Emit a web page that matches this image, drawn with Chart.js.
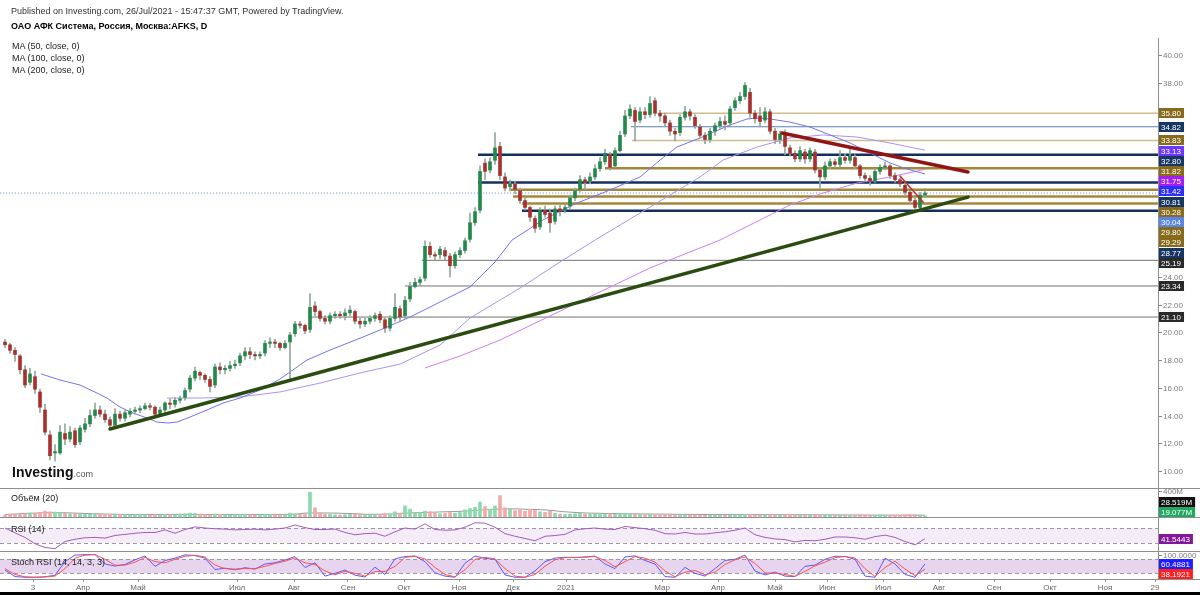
<!DOCTYPE html>
<html lang="ru">
<head>
<meta charset="utf-8">
<title>ОАО АФК Система — AFKS, D</title>
<script src="https://cdn.jsdelivr.net/npm/chart.js@4.4.1/dist/chart.umd.min.js"></script>
<style>
  html, body { margin: 0; padding: 0; background: #fff; }
  #wrap { position: relative; width: 1200px; height: 595px; overflow: hidden; font-family: "Liberation Sans", Arial, sans-serif; }
  #chart { position: absolute; left: 0; top: 0; }
  .t { position: absolute; white-space: nowrap; color: #222; font-size: 9px; line-height: 11px; }
</style>
</head>
<body>
<div id="wrap">
  <canvas id="chart" width="1200" height="595"></canvas>
  <div class="t" style="left:11px;top:6px;color:#333">Published on Investing.com, 26/Jul/2021 - 15:47:37 GMT, Powered by TradingView.</div>
  <div class="t" style="left:11px;top:21px;font-weight:bold;color:#000">ОАО АФК Система, Россия, Москва:AFKS, D</div>
  <div class="t" style="left:12px;top:41px">MA (50, close, 0)</div>
  <div class="t" style="left:12px;top:53px">MA (100, close, 0)</div>
  <div class="t" style="left:12px;top:65px">MA (200, close, 0)</div>
  <div class="t" style="left:11px;top:493px">Объём (20)</div>
  <div class="t" style="left:11px;top:524px">RSI (14)</div>
  <div class="t" style="left:11px;top:557px">Stoch RSI (14, 14, 3, 3)</div>
  <div class="t" style="left:12px;top:464px;font-size:14px;line-height:16px;font-weight:bold;color:#111">Investing<span style="font-size:9px;font-weight:normal;color:#555">.com</span></div>
</div>
<script>
// daily candles, two trading days per candle, from late Feb 2020 to 26 Jul 2021
const candleOpen = [
  19.3,19.1,18.7,18.3,17.3,16.4,16.8,15.7,14.4,12.6,
  11.3,11.3,12.7,12.3,12.9,12.1,13.0,13.4,14.0,14.4,
  14.1,13.7,13.3,14.1,13.8,14.1,14.3,14.4,14.5,14.7,
  14.6,14.1,14.4,14.9,14.8,15.1,15.3,15.9,16.7,17.1,
  16.9,16.6,16.2,17.5,17.3,17.4,17.6,17.8,18.3,18.6,
  18.4,18.3,18.5,19.2,19.3,19.2,18.9,19.3,19.9,20.6,
  20.5,20.2,21.9,21.5,21.0,20.8,21.2,21.3,21.2,21.4,
  21.5,20.8,20.6,20.8,21.0,21.3,20.9,20.3,21.0,21.7,
  21.2,22.4,23.3,23.6,23.9,26.2,25.6,25.6,25.9,25.5,
  24.8,25.6,25.9,26.7,27.9,28.8,32.2,31.7,32.4,33.4,
  31.2,30.5,30.7,30.2,29.5,29.0,28.2,27.6,28.8,28.6,
  28.0,28.9,28.8,29.1,29.7,30.3,31.0,30.9,31.2,31.8,
  32.3,32.8,32.0,33.1,34.3,35.6,36.0,35.3,35.9,35.7,
  36.7,35.8,35.6,35.1,34.5,34.4,35.5,35.9,35.5,34.8,
  34.2,33.9,34.5,34.9,35.2,35.1,36.2,36.7,37.0,37.3,
  35.8,35.6,35.3,35.9,34.5,33.9,34.3,33.3,32.9,32.5,
  33.0,32.5,33.0,31.7,31.2,32.0,32.3,32.1,32.6,32.4,
  32.6,32.0,31.3,31.1,30.9,31.6,31.9,32.0,31.3,31.0,
  30.6,30.1,29.5,29.0,29.9
];
const candleHigh = [
  19.5,19.2,18.9,18.4,17.6,17.4,17.2,15.9,14.8,12.9,
  11.9,13.3,13.4,13.2,13.1,13.3,13.8,14.4,14.9,14.7,
  14.4,13.9,14.5,14.3,14.4,14.5,14.6,14.7,14.9,14.9,
  14.7,14.6,15.0,15.2,15.3,15.4,16.0,16.9,17.5,17.2,
  17.0,16.8,17.7,17.8,17.6,17.9,18.0,18.5,18.9,18.9,
  18.6,18.6,19.4,19.6,19.5,19.3,19.4,20.0,20.8,20.8,
  20.6,22.8,22.2,21.6,21.2,21.4,21.5,21.5,21.7,21.9,
  21.6,21.0,21.0,21.2,21.4,21.5,21.0,21.2,22.8,21.9,
  22.6,23.6,23.9,24.0,26.6,26.5,25.8,26.2,26.1,25.7,
  25.8,26.1,26.8,28.6,29.0,32.0,32.5,32.6,34.4,33.7,
  31.5,31.0,30.9,30.4,29.7,29.1,28.4,29.0,29.1,28.9,
  29.1,29.2,29.2,29.9,30.4,31.3,31.2,31.5,32.1,32.6,
  33.2,33.0,33.3,34.5,36.0,36.4,36.2,36.2,36.2,37.0,
  36.9,36.0,35.8,35.3,34.7,35.7,36.3,36.1,35.7,35.0,
  34.4,34.7,35.1,35.5,35.6,36.3,36.9,37.3,38.0,37.6,
  36.0,36.2,36.2,36.1,34.7,34.5,34.6,33.5,33.1,33.4,
  33.2,33.3,33.2,31.9,32.3,32.5,32.5,33.1,32.9,33.3,
  32.8,32.1,31.5,31.3,31.8,32.1,32.3,32.1,31.5,31.1,
  30.8,30.2,29.7,30.1,30.2
];
const candleLow = [
  18.9,18.5,17.9,17.0,16.0,16.2,15.6,14.2,12.6,10.8,
  10.7,11.2,11.9,12.1,11.7,11.9,12.8,13.2,13.8,13.9,
  13.5,13.0,13.2,13.6,13.6,13.9,14.1,14.2,14.4,14.4,
  13.9,14.0,14.2,14.5,14.6,14.9,15.1,15.7,16.5,16.6,
  16.4,15.7,16.0,17.0,17.0,17.2,17.4,17.6,18.0,18.1,
  18.0,18.1,18.3,18.9,18.9,18.7,18.8,16.6,19.7,20.3,
  19.9,20.0,21.2,20.8,20.6,20.6,21.0,21.0,20.9,21.2,
  20.6,20.3,20.4,20.6,20.8,20.7,20.0,20.1,20.8,20.8,
  21.0,22.2,23.2,23.4,23.7,25.4,25.2,25.3,25.2,24.0,
  24.6,25.4,25.7,26.5,27.7,28.6,31.0,31.5,32.1,31.0,
  30.2,30.2,30.0,29.3,28.8,28.0,27.2,27.4,28.3,27.2,
  27.8,28.4,28.6,28.9,29.5,30.1,30.3,30.7,31.0,31.6,
  32.1,31.7,31.9,33.0,34.1,35.4,33.8,35.1,35.4,35.5,
  35.6,35.2,34.9,34.2,33.8,34.2,35.3,35.3,34.7,34.0,
  33.6,33.7,34.2,34.7,34.6,34.8,36.0,36.5,36.8,35.5,
  35.1,34.8,35.1,34.3,33.6,33.6,32.8,32.7,32.3,32.3,
  32.2,32.3,31.5,30.4,31.0,31.8,31.9,31.9,32.2,32.2,
  31.8,31.1,30.9,30.6,30.8,31.4,31.7,31.1,30.8,30.5,
  29.9,29.3,28.9,28.9,29.7
];
const candleClose = [
  19.1,18.7,18.4,17.3,16.2,17.0,15.9,14.6,12.8,11.1,
  11.4,12.8,12.3,12.8,11.9,13.1,13.4,14.0,14.4,14.1,
  13.7,13.3,14.1,13.8,14.2,14.3,14.4,14.5,14.7,14.6,
  14.1,14.4,14.9,14.8,15.1,15.2,15.8,16.7,17.2,16.9,
  16.6,16.1,17.5,17.3,17.4,17.6,17.7,18.3,18.6,18.4,
  18.3,18.4,19.2,19.3,19.2,18.9,19.2,19.8,20.6,20.5,
  20.1,21.8,21.5,21.0,20.8,21.2,21.3,21.2,21.4,21.6,
  20.8,20.6,20.8,21.0,21.2,20.9,20.3,21.0,21.8,21.1,
  22.3,23.3,23.6,23.8,26.2,25.6,25.5,26.0,25.5,24.8,
  25.6,25.9,26.6,27.9,28.7,31.6,31.6,32.3,33.3,31.3,
  30.4,30.7,30.3,29.5,29.0,28.3,27.5,28.8,28.5,27.9,
  28.9,28.7,29.0,29.7,30.2,31.0,30.8,31.2,31.8,32.3,
  32.9,31.9,33.1,34.2,35.6,36.1,35.2,35.9,35.7,36.5,
  35.8,35.6,35.1,34.5,34.3,35.5,35.9,35.6,34.9,34.2,
  33.9,34.5,34.9,35.2,35.0,36.1,36.7,37.0,37.8,35.8,
  35.4,35.2,35.9,34.5,33.9,34.3,33.4,32.9,32.5,33.1,
  32.5,33.1,31.7,31.2,32.0,32.3,32.1,32.6,32.4,32.7,
  32.0,31.3,31.1,30.9,31.6,31.9,32.0,31.3,31.0,30.7,
  30.1,29.5,29.0,29.9,30.04
];
// volume per candle, millions
const volume = [
  30,35,40,45,50,60,55,70,90,80,
  75,70,60,50,55,45,40,45,50,40,
  35,40,45,40,35,30,35,40,35,30,
  35,30,40,35,30,45,50,60,55,45,
  40,35,45,40,35,30,35,40,45,35,
  30,35,45,40,35,30,35,60,50,40,
  40,380,140,60,45,40,35,30,35,40,
  45,40,35,30,35,40,50,45,80,60,
  170,120,60,70,90,80,60,50,55,70,
  60,70,110,130,150,230,160,120,170,330,
  140,120,100,110,90,120,100,80,70,90,
  55,45,40,45,50,60,45,40,45,50,
  45,50,40,50,55,50,45,40,35,45,
  35,30,28,32,30,35,30,28,30,26,
  26,30,32,30,28,30,34,36,40,38,
  30,28,30,34,30,28,30,34,26,30,
  26,30,34,36,34,30,26,30,26,24,
  26,30,26,24,26,30,26,24,26,30,
  32,36,40,30,19.077
];
// indicators, read at every second candle
const volumeMa = [
  40,45,55,60,65,68,65,60,55,50,
  45,42,40,38,38,38,40,40,40,40,
  38,38,38,38,38,38,38,40,40,42,
  60,62,62,60,55,52,42,42,44,48,
  60,65,70,75,80,85,90,100,110,120,
  125,125,120,115,110,95,80,70,62,58,
  55,52,50,48,46,45,44,42,40,40,
  38,38,37,37,37,36,36,35,35,34,
  34,33,33,32,32,31,31,30,30,29,
  29,28.6,28.519
];
const rsi14 = [
  70,57,45,28,18,15,34,40,44,45,
  43,50,53,56,58,58,65,56,66,73,
  70,68,67,65,66,67,65,67,70,78,
  71,66,66,67,58,52,55,56,48,60,
  70,67,81,66,64,65,72,84,83,72,
  55,48,42,36,48,50,53,65,68,70,
  67,66,74,71,68,64,55,54,58,54,
  54,57,60,64,70,52,45,41,39,33,
  37,36,40,46,46,44,40,47,51,45,
  34,25,41.5443
];
const stochK = [
  34,6,3,3,5,12,70,98,100,100,
  60,51,58,78,94,50,75,85,99,96,
  85,36,42,35,44,38,60,65,77,92,
  45,65,8,20,34,12,4,46,15,82,
  92,94,70,22,8,3,63,94,84,80,
  13,3,3,30,70,85,89,87,90,94,
  60,40,90,95,75,60,6,3,45,20,
  8,40,75,80,98,30,13,25,8,6,
  50,55,80,93,92,80,8,3,85,60,
  15,3,60.4881
];
const stochD = [
  40,15,5,3,4,8,40,85,98,100,
  80,55,55,68,88,70,65,80,93,97,
  90,55,40,38,40,40,50,62,72,86,
  65,58,30,14,28,20,8,28,28,50,
  88,93,82,45,15,5,35,80,88,82,
  40,8,3,15,50,78,87,88,89,92,
  75,48,70,92,85,68,30,5,25,32,
  14,25,58,78,90,62,22,20,15,7,
  28,52,68,87,92,86,40,6,45,72,
  38,10,38.1921
];
// moving averages: candle index and value
const ma50At = [7.2,11,15,18.4,20.4,23,25.6,28.4,30.4,32.6,34.4,37,40.4,43.6,47,51,55,60.4,65,71.6,76.4,81,85,89,93,98,101.4,107.6,114.4,121,127,131,134.4,139,145,148.4,150.4,153,157,161,165,169,173,177,180.4,184];
const ma50 = [17.0,16.56,16.2,15.62,15.26,14.61,14.18,13.82,13.53,13.46,13.53,13.89,14.4,14.9,15.26,15.84,16.63,18.0,18.72,19.66,20.38,21.1,21.82,22.55,23.27,25.07,26.65,28.1,29.32,30.26,31.2,32.42,33.36,34.01,34.95,35.38,35.45,35.38,35.16,34.8,34.23,33.65,32.93,32.21,31.77,31.42];
const ma100At = [32.4,39,47,55,63,71,79,87,93,103,111,119,129,139,143.6,150.4,157,163.6,170.4,177,184];
const ma100 = [15.26,15.26,15.34,15.7,16.34,17.07,17.71,19.08,21.03,23.19,25.07,26.87,29.03,31.2,32.42,33.36,34.01,34.23,34.08,33.65,33.13];
const ma200At = [84,91,99,109,119,129,139,143,151,157,163.6,170.4,177,184];
const ma200 = [17.43,18.29,19.44,21.18,22.91,24.64,26.08,26.65,28.1,29.18,30.04,30.76,31.2,31.75];
// drawn horizontal levels: price, first candle, kind
const levelPrice = [35.80,34.82,33.83,32.80,31.82,30.81,30.28,29.80,29.29,28.77,25.19,23.34,21.10];
const levelFrom = [131,125.2,125.4,94.6,120,94.6,101,101.6,103.4,103.4,83.4,80,61];
const levelKind = ['tanThin','blueThin','tanThin','navy','tanThick','navy','tanThick','tanThick','tanThick','navy','grey','grey','grey'];
// drawn trend lines
const trendKind = ['support','resistance','short'];
const trendX0 = [21,155.4,179];
const trendY0 = [13.03,34.37,31.27];
const trendX1 = [192.6,192.6,183.6];
const trendY1 = [29.75,31.56,29.39];
// time axis
const monthLabels = ['3','Апр','Май','Июл','Авг','Сен','Окт','Ноя','Дек','2021','Мар','Апр','Май','Июн','Июл','Авг','Сен','Окт','Ноя','29'];
const monthAt = [5.6,15.6,26.6,46.4,57.8,68.6,79.8,90.8,101.6,112.2,131.4,142.6,154,164.4,175.6,186.8,197.8,209,220,230];
const priceTicks = [10,12,14,16,18,20,22,24,26,28,30,32,34,36,38,40];

const X_MIN = -1, X_MAX = 230.6;
const FONT = '"Liberation Sans", Arial, sans-serif';
Chart.defaults.font.family = FONT;

const UP = '#23894b', DOWN = '#a8312f', WICK = '#93a89b';
const LEVEL_STYLE = {
  tanThin: { color: '#cdbd8f', width: 1.5, tag: '#876a1c' },
  tanThick: { color: '#a4883a', width: 2.5, tag: '#876a1c' },
  navy: { color: '#132f5e', width: 2.5, tag: '#173663' },
  blueThin: { color: '#587fae', width: 1.2, tag: '#173663' },
  grey: { color: '#727272', width: 1, tag: '#2a2a2a' }
};
const TREND_STYLE = {
  support: { color: '#2b4c10', width: 3.5 },
  resistance: { color: '#921515', width: 3.5 },
  short: { color: '#c0302a', width: 1.6 }
};

const idx = candleClose.map((_, i) => i);
const isUp = idx.map(i => candleClose[i] >= candleOpen[i]);
const everySecond = arr => arr.map((v, j) => ({ x: j * 2, y: v }));
const pairs = (xs, ys) => xs.map((x, k) => ({ x, y: ys[k] }));
const last = arr => arr[arr.length - 1];

const line = (data, color, width, axis, extra) => Object.assign({
  type: 'line', data, borderColor: color, borderWidth: width, pointRadius: 0,
  tension: 0, fill: false, yAxisID: axis, order: 5
}, extra || {});

const datasets = [
  {
    type: 'bar', data: idx.map(i => ({ x: i, y: [candleOpen[i], candleClose[i]] })),
    backgroundColor: idx.map(i => isUp[i] ? UP : DOWN), barThickness: 3,
    grouped: false, minBarLength: 1, yAxisID: 'y', order: 2
  },
  {
    type: 'bar', data: idx.map(i => ({ x: i, y: [candleLow[i], candleHigh[i]] })),
    backgroundColor: WICK, barThickness: 1, grouped: false, yAxisID: 'y', order: 3
  },
  {
    type: 'bar', data: idx.map(i => ({ x: i, y: volume[i] })),
    backgroundColor: idx.map(i => isUp[i] ? '#8bd9ae' : '#f4a9a9'), barThickness: 3,
    grouped: false, yAxisID: 'yVol', order: 4
  },
  line(everySecond(volumeMa), '#9a9a9a', 1, 'yVol'),
  line(everySecond(rsi14), '#a35cc4', 1, 'yRsi'),
  line(everySecond(stochD), '#ff5252', 1, 'yStoch'),
  line(everySecond(stochK), '#5a5aff', 1, 'yStoch'),
  line(pairs(ma50At, ma50), '#7373f0', 1, 'y'),
  line(pairs(ma100At, ma100), '#ad92ef', 1, 'y'),
  line(pairs(ma200At, ma200), '#cf7ef0', 1, 'y'),
  line([{ x: X_MIN, y: last(candleClose) }, { x: X_MAX, y: last(candleClose) }], '#6f8cf5', 1, 'y', { borderDash: [1, 2], order: 7 })
];
levelPrice.forEach((p, k) => {
  const st = LEVEL_STYLE[levelKind[k]];
  datasets.push(line([{ x: levelFrom[k], y: p }, { x: X_MAX, y: p }], st.color, st.width, 'y', { order: 6 }));
});
trendKind.forEach((kind, k) => {
  const st = TREND_STYLE[kind];
  datasets.push(line([{ x: trendX0[k], y: trendY0[k] }, { x: trendX1[k], y: trendY1[k] }], st.color, st.width, 'y', { order: 0, borderCapStyle: 'round' }));
});

// right-hand price tags
const mainTags = levelPrice.map((p, k) => ({ v: p, bg: LEVEL_STYLE[levelKind[k]].tag, text: p.toFixed(2) }));
mainTags.push({ v: last(ma50), bg: '#2d2dff', text: last(ma50).toFixed(2) });
mainTags.push({ v: last(ma100), bg: '#6b36ff', text: last(ma100).toFixed(2) });
mainTags.push({ v: last(ma200), bg: '#a31ff0', text: last(ma200).toFixed(2) });
mainTags.push({ v: last(candleClose), bg: '#5a85e8', text: last(candleClose).toFixed(2) });
mainTags.sort((a, b) => b.v - a.v);

const sidePanel = {
  id: 'sidePanel',
  beforeDatasetsDraw(chart) {
    const { ctx, chartArea: a, scales } = chart;
    const r = scales.yRsi, s = scales.yStoch;
    ctx.save();
    ctx.fillStyle = '#f4ecf7';
    ctx.fillRect(a.left, r.getPixelForValue(70), a.width, r.getPixelForValue(30) - r.getPixelForValue(70));
    ctx.fillStyle = '#e7d4ee';
    ctx.fillRect(a.left, s.getPixelForValue(80), a.width, s.getPixelForValue(20) - s.getPixelForValue(80));
    ctx.strokeStyle = '#9a9a9a';
    ctx.lineWidth = 1;
    ctx.setLineDash([4, 3]);
    [[r, 70], [r, 30], [s, 80], [s, 20]].forEach(([sc, v]) => {
      const y = Math.round(sc.getPixelForValue(v)) + 0.5;
      ctx.beginPath(); ctx.moveTo(a.left, y); ctx.lineTo(a.right, y); ctx.stroke();
    });
    ctx.restore();
  },
  afterDraw(chart) {
    const { ctx, chartArea: a, scales } = chart;
    const ax = a.right;
    ctx.save();
    // pane separators
    ctx.strokeStyle = '#8e8e8e';
    ctx.lineWidth = 1;
    [scales.yVol.top, scales.yRsi.top, scales.yStoch.top, scales.yStoch.bottom].forEach(y => {
      const yy = Math.round(y) + 0.5;
      ctx.beginPath(); ctx.moveTo(0, yy); ctx.lineTo(chart.width, yy); ctx.stroke();
    });
    ctx.beginPath(); ctx.moveTo(ax + 0.5, a.top); ctx.lineTo(ax + 0.5, a.bottom); ctx.stroke();

    ctx.font = '8px ' + FONT;
    ctx.textBaseline = 'middle';
    const tag = (y, text, bg) => {
      const w = ctx.measureText(text).width + 5;
      ctx.fillStyle = bg;
      ctx.fillRect(ax + 1, Math.round(y - 5), w, 10);
      ctx.fillStyle = '#fff';
      ctx.fillText(text, ax + 3, Math.round(y) + 0.5);
    };
    const tick = (y, text) => {
      ctx.fillStyle = '#8a8a8a';
      ctx.fillRect(ax + 1, Math.round(y), 3, 1);
      ctx.fillStyle = '#7a7a7a';
      ctx.fillText(text, ax + 5, Math.round(y) + 0.5);
    };

    // main pane tags, stacked downward
    let prev = -Infinity;
    mainTags.forEach(t => {
      t.py = Math.max(scales.y.getPixelForValue(t.v), prev + 10.2);
      prev = t.py;
    });
    priceTicks.forEach(v => {
      const py = scales.y.getPixelForValue(v);
      if (!mainTags.some(t => Math.abs(t.py - py) < 9)) tick(py, v.toFixed(2));
    });
    mainTags.forEach(t => tag(t.py, t.text, t.bg));

    // volume pane
    tick(scales.yVol.getPixelForValue(400), '400M');
    const volLow = scales.yVol.bottom - 5;
    tag(volLow, last(volume).toFixed(3) + 'M', '#22a861');
    tag(volLow - 10, last(volumeMa).toFixed(3) + 'M', '#111');

    // RSI pane
    tag(scales.yRsi.getPixelForValue(last(rsi14)), last(rsi14).toFixed(4), '#83199a');

    // Stoch RSI pane
    tick(scales.yStoch.getPixelForValue(100), '100.0000');
    const kY = scales.yStoch.getPixelForValue(last(stochK));
    const dY = Math.max(scales.yStoch.getPixelForValue(last(stochD)), kY + 10);
    tag(kY, last(stochK).toFixed(4), '#1d1dff');
    tag(dY, last(stochD).toFixed(4), '#ff1f1f');

    // bottom edge
    ctx.fillStyle = '#000';
    ctx.fillRect(0, chart.height - 3, chart.width, 3);
    ctx.restore();
  }
};

const paneAxis = (weight, min, max) => ({
  type: 'linear', position: 'right', stack: 'panes', stackWeight: weight, min, max,
  ticks: { display: false }, grid: { display: false }, border: { display: false },
  afterFit: sc => { sc.width = 42; }
});

new Chart(document.getElementById('chart'), {
  type: 'bar',
  data: { datasets },
  options: {
    responsive: false,
    animation: false,
    devicePixelRatio: 1,
    events: [],
    layout: { padding: { top: 38, left: 0, right: 0, bottom: 3 } },
    plugins: { legend: { display: false }, tooltip: { enabled: false } },
    scales: {
      x: {
        type: 'linear', min: X_MIN, max: X_MAX, offset: false,
        grid: { display: true, drawOnChartArea: false, drawTicks: true, tickLength: 3, color: '#9a9a9a', offset: false },
        border: { display: false },
        ticks: { autoSkip: false, maxRotation: 0, padding: 1, color: '#666', font: { size: 8 }, callback: (v, k) => monthLabels[k] },
        afterBuildTicks: ax => { ax.ticks = monthAt.map(v => ({ value: v })); },
        afterFit: ax => { ax.height = 13; }
      },
      y: paneAxis(450, 8.774, 41.22),
      yVol: paneAxis(29, 0, 446),
      yRsi: paneAxis(34, 8.7, 99.3),
      yStoch: paneAxis(28, -4.4, 115.6)
    }
  },
  plugins: [sidePanel]
});
</script>
</body>
</html>
